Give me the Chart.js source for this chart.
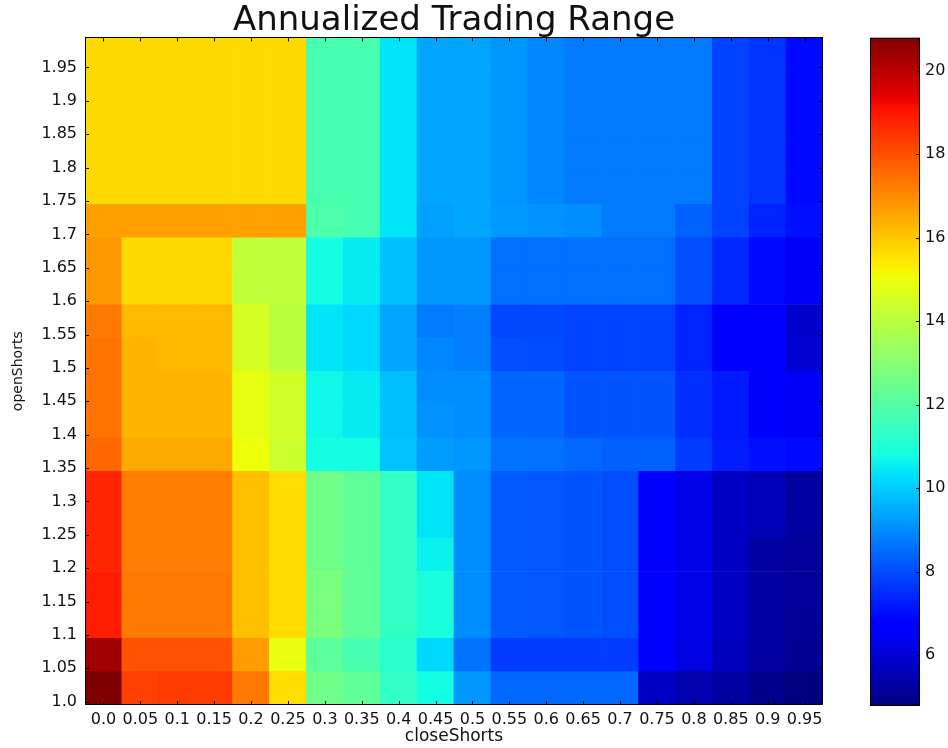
<!DOCTYPE html>
<html>
<head>
<meta charset="utf-8">
<script src="https://cdn.jsdelivr.net/npm/chart.js@4.4.1/dist/chart.umd.min.js"></script>
<style>
  html, body { margin: 0; padding: 0; background: #fff; }
  #wrap { position: relative; width: 948px; height: 748px; }
  #heat { position: absolute; left: 0; top: 0; }
  #cbar { position: absolute; left: 858px; top: 0; }
</style>
</head>
<body>
<div id="wrap">
  <canvas id="heat" width="948" height="748"></canvas>
  <canvas id="cbar" width="90" height="748"></canvas>
</div>
<script>
var closeShorts = ['0.0','0.05','0.1','0.15','0.2','0.25','0.3','0.35','0.4','0.45',
                   '0.5','0.55','0.6','0.65','0.7','0.75','0.8','0.85','0.9','0.95'];
var openShorts = ['1.0','1.05','1.1','1.15','1.2','1.25','1.3','1.35','1.4','1.45',
                  '1.5','1.55','1.6','1.65','1.7','1.75','1.8','1.85','1.9','1.95'];
var cbarTicks = [6, 8, 10, 12, 14, 16, 18, 20];

// one row per openShorts value, columns follow closeShorts
var r100 = [20.8,18.28,18.38,18.38,17.3,15.62,12.56,12.27,11.38,10.79,9.16,8.42,8.42,8.42,8.42,5.76,5.46,5.26,4.97,4.8];
var r105 = [20.36,17.99,17.99,17.99,16.71,14.93,12.17,11.77,11.18,10.2,8.62,7.73,7.73,7.73,7.73,6.64,6.15,5.66,5.26,5.07];
var r110 = [18.88,17.3,17.3,17.3,16.11,15.62,12.76,12.27,11.38,10.89,9.01,8.22,8.17,8.12,8.03,6.64,6.25,5.76,5.26,5.12];
var r115 = [18.88,17.3,17.3,17.3,16.11,15.62,12.76,12.27,11.38,10.89,9.01,8.22,8.17,8.12,8.03,6.64,6.25,5.76,5.26,5.16];
var r120 = [18.73,17.25,17.25,17.25,16.11,15.62,12.56,12.22,11.38,10.59,9.01,8.22,8.17,8.12,8.03,6.64,6.25,5.76,5.26,5.16];
var r125 = [18.73,17.25,17.25,17.25,16.11,15.62,12.56,12.22,11.38,10.39,9.01,8.22,8.17,8.12,8.03,6.64,6.25,5.76,5.56,5.26];
var r130 = [18.73,17.25,17.25,17.25,16.11,15.62,12.56,12.22,11.38,10.39,9.01,8.22,8.17,8.12,8.03,6.64,6.25,5.76,5.56,5.26];
var r135 = [17.59,16.51,16.51,16.51,15.03,14.34,10.79,10.79,9.85,9.26,9.16,8.62,8.57,8.42,8.32,8.32,7.73,7.24,7.04,6.94];
var r140 = [17.4,16.31,16.31,16.31,14.88,14.44,10.69,10.49,9.8,9.11,9.01,8.37,8.37,8.12,8.12,8.12,7.53,7.19,6.64,6.45];
var r145 = [17.4,16.31,16.31,16.31,14.88,14.44,10.69,10.49,9.8,9.01,9.01,8.37,8.37,8.12,8.12,8.12,7.53,7.19,6.64,6.45];
var r150 = [17.4,16.31,16.21,16.21,14.54,14.04,10.39,10.2,9.41,8.91,8.81,8.03,7.98,7.83,7.83,7.83,7.33,6.64,6.55,5.95];
var r155 = [17.3,16.21,16.21,16.21,14.54,14.04,10.39,10.2,9.41,8.72,8.81,7.93,7.93,7.83,7.83,7.83,7.33,6.64,6.55,5.86];
var r160 = [16.8,15.67,15.67,15.67,14.09,14.09,10.79,10.49,9.8,9.16,9.16,8.52,8.52,8.52,8.52,8.52,8.03,7.43,6.94,6.45];
var r165 = [16.8,15.67,15.67,15.67,14.09,14.09,10.79,10.49,9.8,9.16,9.16,8.52,8.52,8.52,8.52,8.52,8.03,7.43,6.94,6.45];
var r170 = [16.66,16.66,16.66,16.66,16.66,16.66,11.87,11.77,10.39,9.31,9.41,9.21,9.11,9.01,8.72,8.72,8.32,7.83,7.33,7.04];
var r175 = [15.67,15.67,15.67,15.67,15.67,15.67,11.77,11.77,10.39,9.41,9.41,9.16,8.91,8.72,8.72,8.72,8.72,7.83,7.63,6.94];
var r180 = [15.67,15.67,15.67,15.67,15.67,15.67,11.77,11.77,10.39,9.41,9.41,9.16,8.91,8.72,8.72,8.72,8.72,7.83,7.63,6.94];
var r185 = [15.67,15.67,15.67,15.67,15.67,15.67,11.77,11.77,10.39,9.41,9.41,9.16,8.91,8.72,8.72,8.72,8.72,7.83,7.63,6.94];
var r190 = [15.67,15.67,15.67,15.67,15.67,15.67,11.77,11.77,10.39,9.41,9.41,9.16,8.91,8.72,8.72,8.72,8.72,7.83,7.63,6.94];
var r195 = [15.67,15.67,15.67,15.67,15.67,15.67,11.77,11.77,10.39,9.41,9.41,9.16,8.91,8.72,8.72,8.72,8.72,7.83,7.63,6.94];

var grid = [r100,r105,r110,r115,r120,r125,r130,r135,r140,r145,
            r150,r155,r160,r165,r170,r175,r180,r185,r190,r195];

var allValues = [].concat.apply([], grid);
var vmin = Math.min.apply(null, allValues);
var vmax = Math.max.apply(null, allValues);

// matplotlib "jet" colormap
var jetR = [[0,0],[0.35,0],[0.66,1],[0.89,1],[1,0.5]];
var jetG = [[0,0],[0.125,0],[0.375,1],[0.64,1],[0.91,0],[1,0]];
var jetB = [[0,0.5],[0.11,1],[0.34,1],[0.65,0],[1,0]];
var jetStops = [0,0.11,0.125,0.34,0.35,0.375,0.64,0.65,0.66,0.89,0.91,1];

function seg(s, t){
    for (var i = 1; i < s.length; i++) {
        if (t <= s[i][0]) {
            var a = s[i-1], b = s[i];
            return a[1] + (b[1] - a[1]) * (t - a[0]) / (b[0] - a[0]);
        }
    }
    return s[s.length-1][1];
}
function jet(t){
    t = Math.max(0, Math.min(1, t));
    return 'rgb(' + Math.round(255*seg(jetR,t)) + ',' + Math.round(255*seg(jetG,t)) + ',' + Math.round(255*seg(jetB,t)) + ')';
}

var font = 'DejaVu Sans';
var textColor = '#111';

// small inward tick marks and black frame, like matplotlib classic
var frame = {
    id: 'frame',
    afterDatasetsDraw: function(chart, args, opts){
        var ctx = chart.ctx, a = chart.chartArea;
        var x = chart.scales.x, y = chart.scales.y;
        ctx.save();
        ctx.strokeStyle = '#000';
        ctx.lineWidth = 1;
        ctx.beginPath();
        if (opts.xTicks) {
            x.ticks.forEach(function(t, i){
                var px = Math.round(x.getPixelForTick(i)) + 0.5;
                ctx.moveTo(px, a.bottom); ctx.lineTo(px, a.bottom - 4);
                ctx.moveTo(px, a.top); ctx.lineTo(px, a.top + 4);
            });
        }
        y.ticks.forEach(function(t){
            var py = Math.round(y.getPixelForValue(t.value)) + 0.5;
            if (opts.leftTicks) { ctx.moveTo(a.left, py); ctx.lineTo(a.left + 4, py); }
            ctx.moveTo(a.right, py); ctx.lineTo(a.right - 4, py);
        });
        ctx.stroke();
        ctx.strokeRect(Math.round(a.left) + 0.5, Math.round(a.top) + 0.5,
                       Math.round(a.right - a.left) - 1, Math.round(a.bottom - a.top) - 1);
        ctx.restore();
    }
};

var datasets = grid.map(function(row, i){
    return {
        label: openShorts[i],
        data: row.map(function(){ return [i - 0.1, i + 0.9]; }),
        backgroundColor: row.map(function(v){ return jet((v - vmin) / (vmax - vmin)); }),
        borderWidth: 0,
        barPercentage: 1,
        categoryPercentage: 1,
        grouped: false
    };
});

new Chart(document.getElementById('heat'), {
    type: 'bar',
    data: { labels: closeShorts, datasets: datasets },
    plugins: [frame],
    options: {
        responsive: false,
        animation: false,
        layout: { padding: { left: 0, right: 125, top: 0, bottom: 0 } },
        plugins: {
            legend: { display: false },
            tooltip: { enabled: false },
            frame: { xTicks: true, leftTicks: true },
            title: {
                display: true,
                fullSize: false,
                text: 'Annualized Trading Range',
                color: textColor,
                font: { family: font, size: 34, weight: 'normal', lineHeight: 0.94 },
                padding: { top: 5.5, bottom: 0 }
            }
        },
        scales: {
            x: {
                offset: true,
                grid: { display: false, drawTicks: false },
                border: { display: false },
                ticks: { color: textColor, font: { family: font, size: 16 }, padding: 5,
                         autoSkip: false, minRotation: 0, maxRotation: 0 },
                title: { display: true, text: 'closeShorts', color: textColor,
                         font: { family: font, size: 17 }, padding: { top: 0, bottom: 1.5 } },
                afterFit: function(s){ s.height = 43; }
            },
            y: {
                type: 'linear',
                min: -0.1,
                max: 19.9,
                grid: { display: false, drawTicks: false },
                border: { display: false },
                afterBuildTicks: function(s){
                    s.ticks = openShorts.map(function(l, i){ return { value: i }; });
                },
                ticks: { color: textColor, font: { family: font, size: 16 }, padding: 8,
                         callback: function(v){ return openShorts[v]; } },
                title: { display: true, text: 'openShorts', color: textColor,
                         font: { family: font, size: 14 }, padding: { top: 10, bottom: 0 } },
                afterFit: function(s){ s.width = 85; }
            }
        }
    }
});

// colour bar
new Chart(document.getElementById('cbar'), {
    type: 'bar',
    data: {
        labels: [''],
        datasets: [{
            data: [[vmin, vmax]],
            backgroundColor: function(c){
                var a = c.chart.chartArea;
                if (!a) return null;
                var g = c.chart.ctx.createLinearGradient(0, a.bottom, 0, a.top);
                jetStops.forEach(function(s){ g.addColorStop(s, jet(s)); });
                return g;
            },
            borderWidth: 0,
            barPercentage: 1,
            categoryPercentage: 1
        }]
    },
    plugins: [frame],
    options: {
        responsive: false,
        animation: false,
        layout: { padding: { left: 12, right: 0, top: 37.5, bottom: 43 } },
        plugins: {
            legend: { display: false },
            tooltip: { enabled: false },
            frame: { xTicks: false, leftTicks: false }
        },
        scales: {
            x: { display: false },
            y: {
                position: 'right',
                min: vmin,
                max: vmax,
                grid: { display: false, drawTicks: false },
                border: { display: false },
                afterBuildTicks: function(s){
                    s.ticks = cbarTicks.map(function(v){ return { value: v }; });
                },
                ticks: { color: textColor, font: { family: font, size: 16 }, padding: 5 },
                afterFit: function(s){ s.width = 28; }
            }
        }
    }
});
</script>
</body>
</html>
